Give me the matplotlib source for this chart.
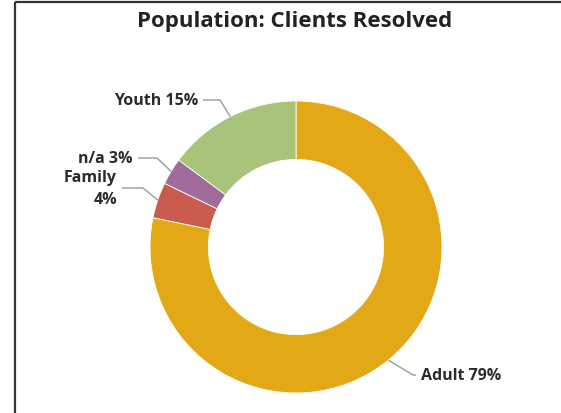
import numpy as np
import matplotlib
matplotlib.use("Agg")
import matplotlib.pyplot as plt
from matplotlib.lines import Line2D

# ---- data ----
categories = ["Adult", "Family", "n/a", "Youth"]
values = [79, 4, 3, 15]
colors = ["#E2A816", "#C95C4D", "#A16B9C", "#A8C47A"]
label_texts = ["Adult 79%", "Family\n4%", "n/a 3%", "Youth 15%"]
title = "Population: Clients Resolved"

W, H = 561, 414
fig = plt.figure(figsize=(W / 100, H / 100), dpi=100)
ax = fig.add_axes([0, 0, 1, 1])

cx, cy_top, R = 296, 248, 146
cy = H - cy_top

wedges, _ = ax.pie(values, colors=colors, startangle=90, counterclock=False,
                   radius=R, center=(cx, cy),
                   wedgeprops=dict(width=R * 0.40, edgecolor="white", linewidth=0.6))
ax.set_xlim(0, W)
ax.set_ylim(0, H)
ax.set_aspect("equal")
ax.axis("off")

# label layout (text anchor in top-based pixels, elbow x)
layout = {
    "Adult": dict(tx=421, ty=376, ha="left", hx=413),
    "Family": dict(tx=117, ty=189, ha="right", hx=143),
    "n/a": dict(tx=133, ty=159, ha="right", hx=157),
    "Youth": dict(tx=198, ty=101, ha="right", hx=220),
}
font = "Open Sans"
fs = 11.5
tc = "#2b2b2b"
for w, cat, txt in zip(wedges, categories, label_texts):
    ang = np.deg2rad((w.theta1 + w.theta2) / 2)
    px = cx + R * 1.0 * np.cos(ang)
    py = cy + R * 1.0 * np.sin(ang)
    L = layout[cat]
    ty = H - L["ty"]
    line_end = L["tx"] - 5 if L["ha"] == "left" else L["tx"] + 5
    ax.plot([px, L["hx"], line_end], [py, ty, ty], color="#9a9a9a", lw=1.0,
            solid_capstyle="butt")
    if cat == "Family":
        ax.text(L["tx"], ty + 11, "Family", ha="right", va="center", fontsize=fs,
                fontweight="bold", color=tc, family=font)
        ax.text(L["tx"], ty - 11, "4%", ha="right", va="center", fontsize=fs,
                fontweight="bold", color=tc, family=font)
    else:
        ax.text(L["tx"], ty, txt, ha=L["ha"], va="center", fontsize=fs,
                fontweight="bold", color=tc, family=font)

fig.text(295 / W, 1 - 22 / H, title, ha="center", va="center", fontsize=16,
         fontweight="bold", color="#222222", family=font)

# border lines
fig.add_artist(Line2D([15 / W, 560.5 / W], [1 - 3 / H, 1 - 3 / H], color="#333333",
                      lw=1.6, solid_capstyle="butt", transform=fig.transFigure))
fig.add_artist(Line2D([15 / W, 15 / W], [0, 1 - 3 / H], color="#333333", lw=1.6,
                      solid_capstyle="butt", transform=fig.transFigure))

fig.savefig("out.png", dpi=100)
